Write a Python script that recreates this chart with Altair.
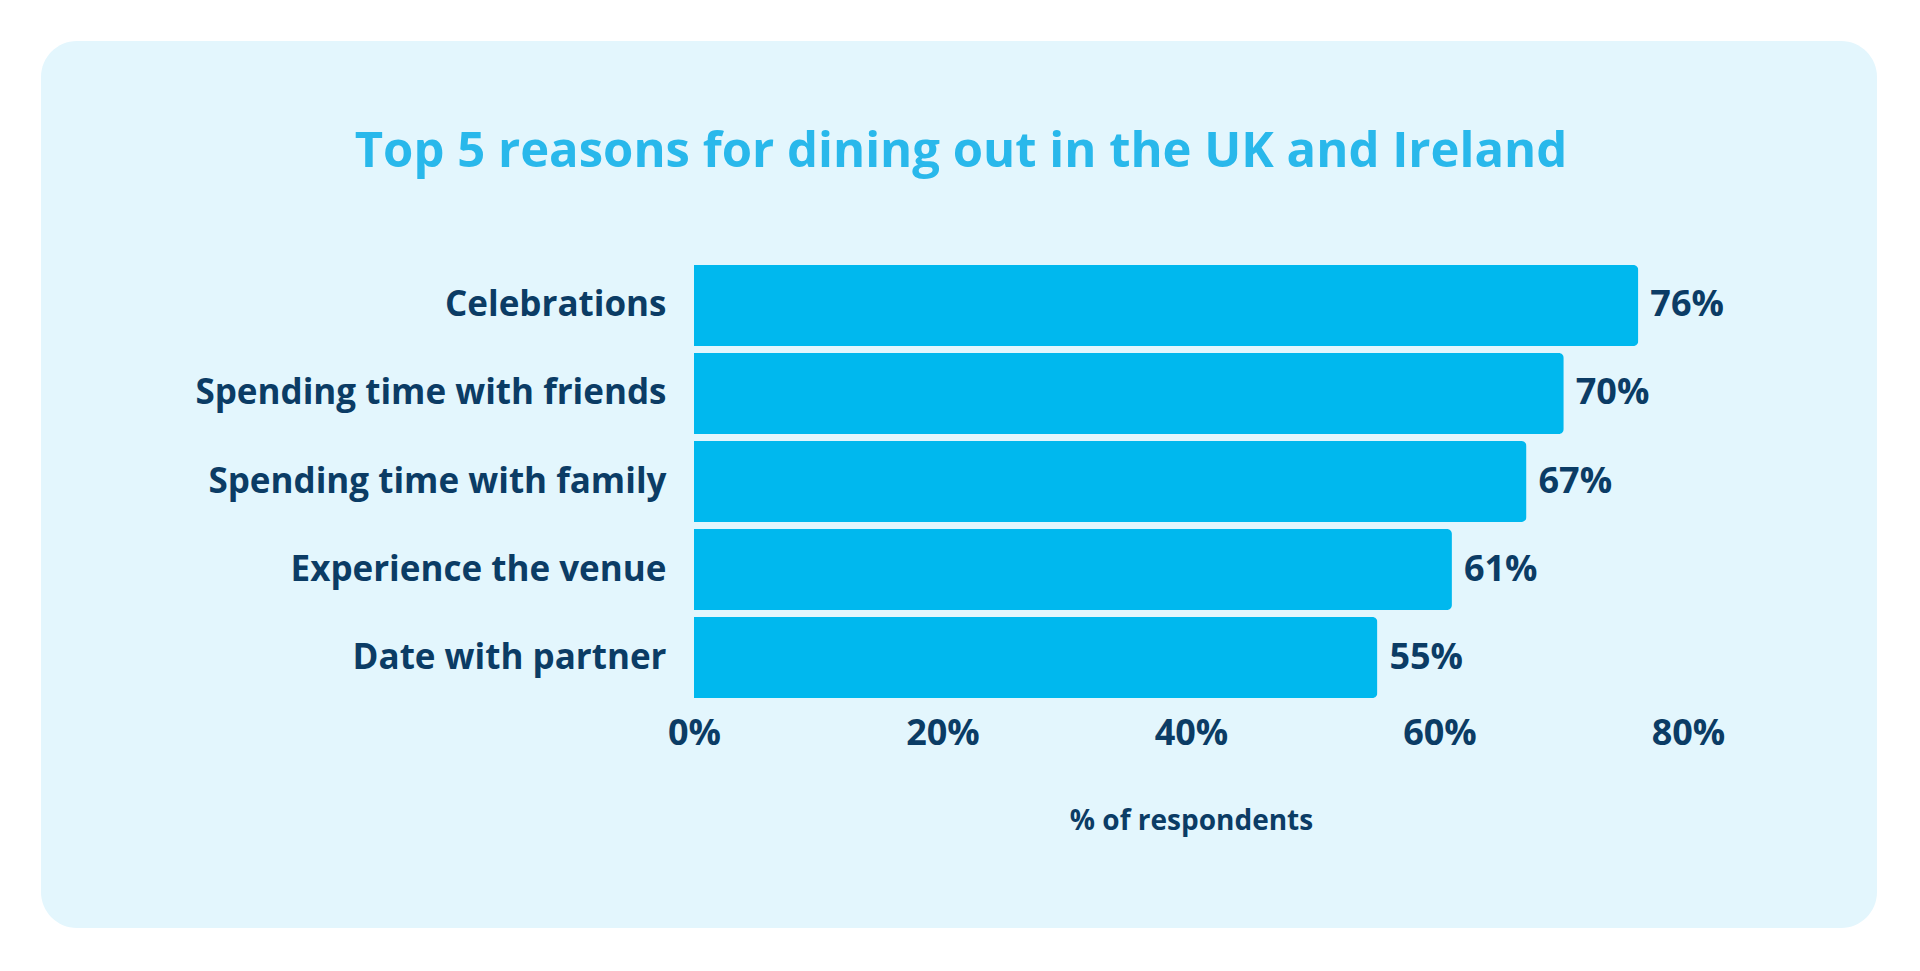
import altair as alt
import pandas as pd

categories = [
    "Celebrations",
    "Spending time with friends",
    "Spending time with family",
    "Experience the venue",
    "Date with partner",
]
values = [76, 70, 67, 61, 55]
tick_values = [0, 20, 40, 60, 80]
title_text = "Top 5 reasons for dining out in the UK and Ireland"
x_title = "% of respondents"

df = pd.DataFrame({"reason": categories, "pct": values})
df["label"] = df["pct"].astype(str) + "%"

NAVY = "#0B3C65"
BAR = "#00B8EE"
PANEL = "#E3F6FD"
TITLE = "#29B8EB"
FONT = "Open Sans"

panel = alt.Chart(pd.DataFrame({"p": [0]})).mark_rect(
    color=PANEL, cornerRadius=36
).encode(
    x=alt.value(-653), x2=alt.value(1183), y=alt.value(-224), y2=alt.value(663)
)

y_enc = alt.Y(
    "reason:N",
    sort=categories,
    scale=alt.Scale(paddingInner=0.08, paddingOuter=0),
    axis=alt.Axis(
        title=None, domain=False, ticks=False, labelPadding=28,
        labelFont=FONT, labelFontSize=35, labelFontWeight="bold",
        labelColor=NAVY, labelLimit=700, zindex=1,
    ),
)
x_enc = alt.X(
    "pct:Q",
    scale=alt.Scale(domain=[0, 80], nice=False),
    axis=alt.Axis(
        values=tick_values, labelExpr="datum.value + '%'", title=x_title,
        domain=False, ticks=False, grid=False, labelFlush=False,
        labelFont=FONT, labelFontSize=36, labelFontWeight="bold",
        labelColor=NAVY, labelPadding=18,
        titleFont=FONT, titleFontSize=28, titleFontWeight="bold",
        titleColor=NAVY, titlePadding=56, zindex=1,
    ),
)

bars = alt.Chart(df).mark_bar(color=BAR, cornerRadiusEnd=5).encode(x=x_enc, y=y_enc)
text = alt.Chart(df).mark_text(
    align="left", baseline="middle", dx=12, font=FONT, fontSize=36,
    fontWeight="bold", color=NAVY,
).encode(x="pct:Q", y=alt.Y("reason:N", sort=categories), text="label:N")

chart = alt.layer(panel, bars, text).properties(
    width=994,
    height=433,
    title=alt.TitleParams(
        text=title_text, font=FONT, fontSize=49, fontWeight="bold",
        color=TITLE, anchor="middle", frame="group", dx=-230,
        baseline="alphabetic", offset=-175, zindex=1,
    ),
    autosize=alt.AutoSizeParams(type="none"),
    padding={"left": 694, "top": 265, "right": 232, "bottom": 273},
    background="white",
).configure_view(stroke=None)

chart.save("out.html", embed_options={"renderer": "svg", "actions": False})
